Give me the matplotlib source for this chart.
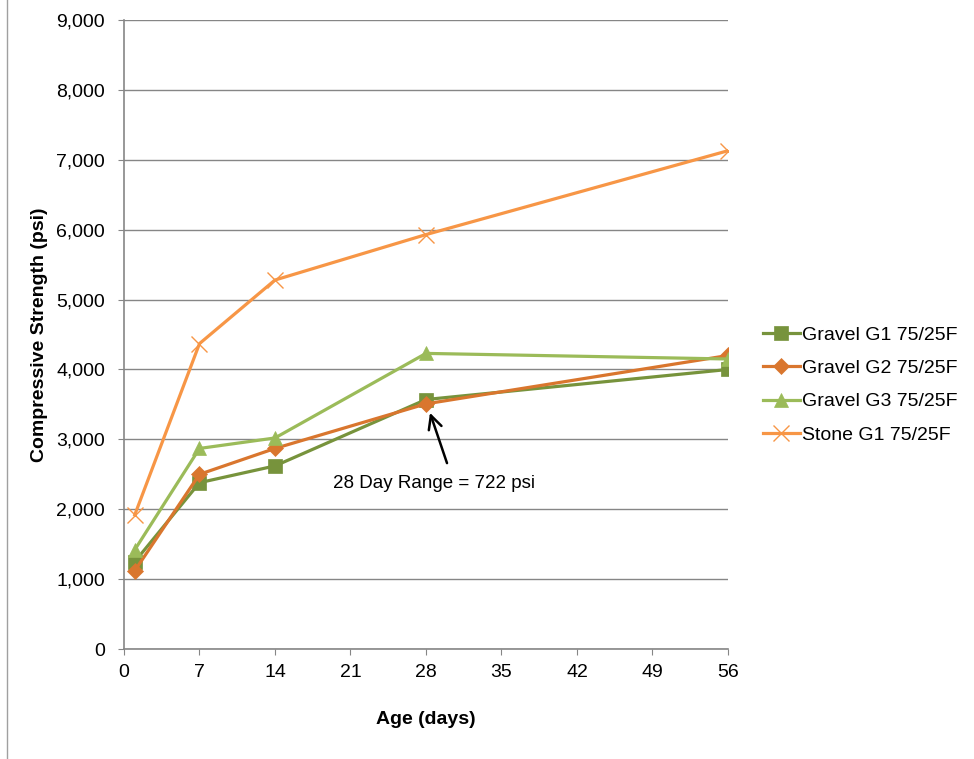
import matplotlib.pyplot as plt
from matplotlib.lines import Line2D

plt.rcParams['font.family'] = ['Liberation Sans', 'DejaVu Sans']

# Compressive strength vs age
age = [1, 7, 14, 28, 56]
gravel_g1 = [1250, 2380, 2620, 3570, 4000]
gravel_g2 = [1120, 2500, 2870, 3508, 4200]
gravel_g3 = [1420, 2870, 3020, 4230, 4150]
stone_g1 = [1920, 4370, 5280, 5930, 7130]

labels = ['Gravel G1 75/25F', 'Gravel G2 75/25F', 'Gravel G3 75/25F', 'Stone G1 75/25F']
colors = ['#77933C', '#D9762E', '#9BBB59', '#F79646']
markers = ['s', 'D', '^', 'x']
msizes = [9.5, 8.5, 10, 12]

x_ticks = [0, 7, 14, 21, 28, 35, 42, 49, 56]
y_ticks = list(range(0, 9001, 1000))

fig = plt.figure(figsize=(9.74, 7.59), dpi=100)
ax = fig.add_axes([0.1273, 0.1449, 0.6201, 0.8287])

series = [gravel_g1, gravel_g2, gravel_g3, stone_g1]
for vals, lab, c, m, ms in zip(series, labels, colors, markers, msizes):
    ax.plot(age, vals, color=c, lw=2.3, marker=m, ms=ms,
            mew=1.0 if m == 'x' else 0.5, label=lab)

ax.set_xlim(0, 56)
ax.set_ylim(0, 9000)
ax.set_xticks(x_ticks)
ax.set_yticks(y_ticks)
ax.set_yticklabels([f'{v:,}' for v in y_ticks])
ax.tick_params(labelsize=14, color='#868686', length=4.5, direction='out')
ax.tick_params(axis='y', pad=9)
ax.tick_params(axis='x', pad=6)
ax.yaxis.grid(True, color='#868686', lw=1)
ax.set_axisbelow(True)
for s in ['top', 'right']:
    ax.spines[s].set_visible(False)
for s in ['left', 'bottom']:
    ax.spines[s].set_color('#868686')
    ax.spines[s].set_linewidth(1.2)

ax.set_xlabel('Age (days)', fontsize=14, fontweight='bold', labelpad=22)
ax.set_ylabel('Compressive Strength (psi)', fontsize=14, fontweight='bold', labelpad=6)

# 28-day range between G3 and G2
rng = gravel_g3[3] - gravel_g2[3]
ax.text(28.74, 2375, f'28 Day Range = {rng} psi', ha='center', va='center', fontsize=13.5)
ax.annotate('', xy=(28.37, 3380), xytext=(29.95, 2660),
            arrowprops=dict(arrowstyle='->', color='black', lw=1.8, mutation_scale=24,
                            shrinkA=0, shrinkB=0))

ax.legend(loc='center left', bbox_to_anchor=(1.058, 0.42), frameon=False, fontsize=14,
          handlelength=1.9, handletextpad=0.1, labelspacing=0.81,
          borderaxespad=0, borderpad=0)

# chart frame edge on the left
fig.add_artist(Line2D([0.0072, 0.0072], [0.0, 1.0], color='#A0A0A0', lw=1, transform=fig.transFigure))

fig.savefig('out.png', dpi=100)
